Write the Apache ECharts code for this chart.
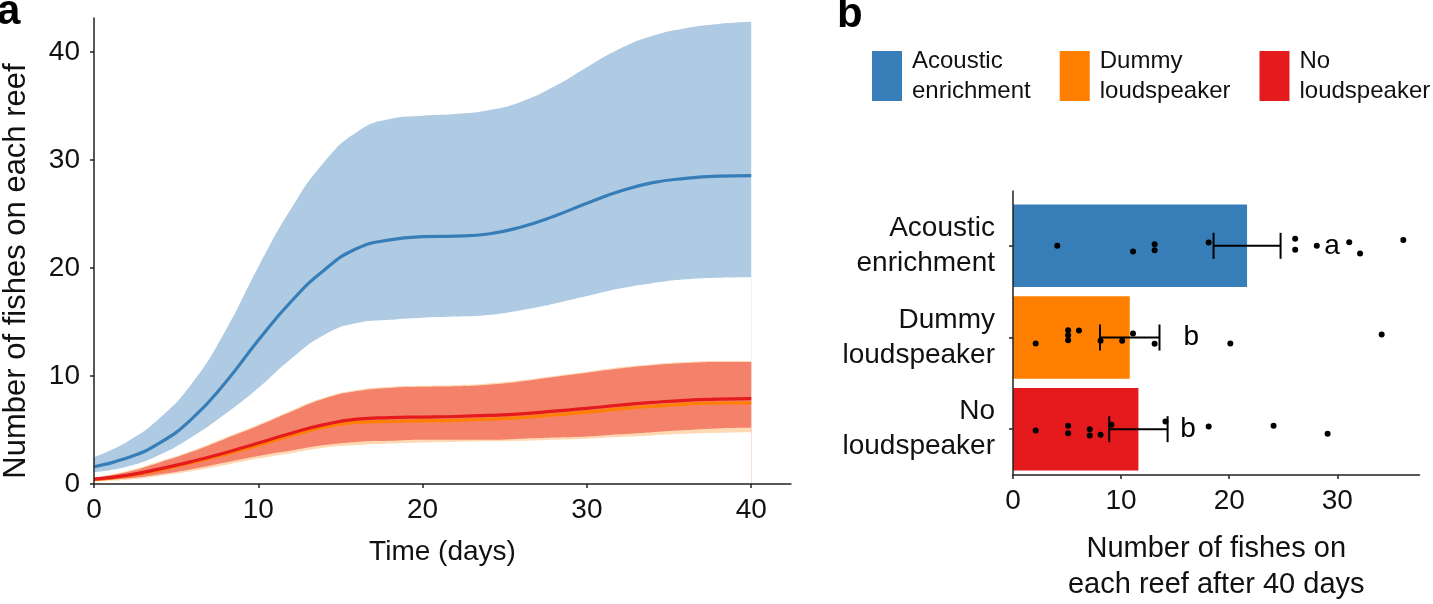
<!DOCTYPE html>
<html><head><meta charset="utf-8">
<script src="https://cdn.jsdelivr.net/npm/echarts@6/dist/echarts.min.js"></script>
<style>html,body{margin:0;padding:0;background:#fff}#c{width:1433px;height:604px}</style>
</head><body><div id="c"></div>
<script>
// ---------- Panel a: time series ----------
const days = [0,2,4,6,8,10,12,14,16,18,20,22,24,26,28,30,32,34,36,38,40];
const blueUpper = [2.5,3.9,6.1,9.4,14.2,20.1,25.5,29.8,32.6,33.8,34.1,34.25,34.6,35.4,36.8,38.6,40.3,41.5,42.2,42.6,42.8];
const blueMean  = [1.6,2.4,3.8,6.1,9.4,13.3,16.9,19.8,21.8,22.6,22.9,22.95,23.15,23.8,24.8,26.0,27.1,27.9,28.3,28.5,28.55];
const blueLower = [1.1,1.6,2.7,4.4,6.5,8.9,11.6,13.8,14.9,15.2,15.4,15.5,15.65,16.1,16.7,17.4,18.1,18.6,18.95,19.1,19.15];
const orangeUpper = [0.6,1.2,2.1,3.1,4.3,5.5,6.8,8.0,8.7,9.0,9.1,9.15,9.3,9.6,10.0,10.4,10.8,11.1,11.3,11.4,11.4];
const orangeMean  = [0.4,0.75,1.3,2.0,2.75,3.6,4.5,5.25,5.7,5.8,5.85,5.9,6.0,6.15,6.4,6.65,6.95,7.2,7.4,7.5,7.5];
const orangeLower = [0.25,0.4,0.75,1.2,1.75,2.35,2.85,3.35,3.6,3.75,3.85,3.9,3.95,4.0,4.1,4.2,4.35,4.5,4.65,4.75,4.8];
const redUpper = [0.55,1.1,2.0,3.0,4.2,5.4,6.7,7.9,8.6,8.9,9.0,9.05,9.2,9.5,9.9,10.3,10.7,11.0,11.2,11.3,11.3];
const redMean  = [0.45,0.8,1.4,2.1,2.9,3.8,4.7,5.5,6.0,6.15,6.2,6.25,6.35,6.5,6.75,7.0,7.3,7.55,7.75,7.85,7.9];
const redLower = [0.3,0.5,0.9,1.4,2.0,2.6,3.1,3.6,3.9,4.0,4.1,4.1,4.1,4.2,4.3,4.4,4.6,4.8,5.0,5.15,5.2];
const xTicksA = [0,10,20,30,40];
const yTicksA = [0,10,20,30,40];

// ---------- Panel b: bars after 40 days ----------
const groups = ['Acoustic enrichment','Dummy loudspeaker','No loudspeaker'];
const barMeans = [21.65, 10.8, 11.6];
const barSE = [3.1, 2.75, 2.7];
const letters = ['a','b','b'];
const letterX = [29.5, 16.5, 16.2];
const blueDots   = [4.1,11.1,13.1,13.1,18.1,26.1,26.1,28.1,31.1,32.1,36.1];
const blueJit    = [0,0.062,-0.018,0.047,-0.036,-0.076,0.044,0,-0.04,0.084,-0.065];
const orangeDots = [2.1,5.1,5.1,5.1,6.1,8.1,10.1,11.1,13.1,20.1,34.1];
const orangeJit  = [0.065,-0.08,-0.025,0.03,-0.076,0.036,0.036,-0.044,0.069,0.065,-0.033];
const redDots    = [2.1,5.1,5.1,7.1,7.1,8.1,9.1,14.1,18.1,24.1,29.1];
const redJit     = [0.015,-0.036,0.044,0,0.069,0.062,-0.047,-0.084,-0.029,-0.036,0.051];
const xTicksB = [0,10,20,30];

const C = {blue:'#377eb8', orange:'#ff7f00', red:'#e41a1c',
  blueBand:'#afcbe3', peach:'#ffd9b3', salmon:'#f4826b', white:'#ffffff', ink:'#111111'};
const FONT = 'Liberation Sans, Arial, Helvetica, sans-serif';

function pairs(v){ return days.map((d,i)=>[d, v[i]]); }
function area(v, color){
  return {type:'line', xAxisIndex:0, yAxisIndex:0, data:pairs(v), smooth:true, symbol:'none',
    lineStyle:{width:0, opacity:0}, areaStyle:{color:color, opacity:1}, silent:true, z:2};
}
function meanLine(name, v, color){
  return {name:name, type:'line', xAxisIndex:0, yAxisIndex:0, data:pairs(v), smooth:true, symbol:'none',
    color:color, lineStyle:{width:3.2, color:color}, silent:true, z:3};
}
const axisLineStyle = {color:'#222', width:1.5};

const chart = echarts.init(document.getElementById('c'), null, {renderer:'canvas'});
chart.setOption({
  animation:false,
  textStyle:{fontFamily:FONT},
  title:[
    {text:'a', left:-3, top:-9, padding:0, textStyle:{fontSize:42, fontWeight:'bold', color:'#000', fontFamily:FONT}},
    {text:'b', left:837, top:-6, padding:0, textStyle:{fontSize:42, fontWeight:'bold', color:'#000', fontFamily:FONT}}
  ],
  legend:{
    data:groups.map((g,i)=>({name:g, icon:'rect', itemStyle:{color:[C.blue,C.orange,C.red][i], borderWidth:0}})),
    left:872, top:46, width:561, padding:0, itemWidth:30, itemHeight:50, itemGap:29,
    symbolKeepAspect:false, selectedMode:false,
    formatter:n=>n.replace(' ','\n'),
    textStyle:{fontSize:24, lineHeight:30, color:C.ink, fontFamily:FONT, padding:[0,0,0,5]}
  },
  grid:[
    {left:94, top:18, width:697, height:466},
    {left:1013, top:200, width:406.5, height:275},
    {left:1013, top:191, width:406.5, height:293}
  ],
  xAxis:[
    {gridIndex:0, type:'value', min:0, max:42.42, z:10,
      axisLine:{show:true, lineStyle:axisLineStyle},
      axisTick:{show:true, length:4, customValues:xTicksA, lineStyle:axisLineStyle},
      axisLabel:{customValues:xTicksA, fontSize:28, margin:12, color:C.ink, fontFamily:FONT},
      splitLine:{show:false},
      name:'Time (days)', nameLocation:'middle', nameGap:54,
      nameTextStyle:{fontSize:28, color:C.ink, fontFamily:FONT}},
    {gridIndex:1, type:'value', min:0, max:37.6, show:false},
    {gridIndex:2, type:'value', min:0, max:37.6, z:10,
      axisLine:{show:true, lineStyle:axisLineStyle},
      axisTick:{show:true, length:4, customValues:xTicksB, lineStyle:axisLineStyle},
      axisLabel:{customValues:xTicksB, fontSize:28, margin:12, color:C.ink, fontFamily:FONT},
      splitLine:{show:false},
      name:'Number of fishes on\neach reef after 40 days', nameLocation:'middle', nameGap:56,
      nameTextStyle:{fontSize:29, lineHeight:36, color:C.ink, fontFamily:FONT}}
  ],
  yAxis:[
    {gridIndex:0, type:'value', min:0, max:43.15, z:10,
      axisLine:{show:true, lineStyle:axisLineStyle},
      axisTick:{show:true, length:4, customValues:yTicksA, lineStyle:axisLineStyle},
      axisLabel:{customValues:yTicksA, fontSize:28, margin:14, color:C.ink, fontFamily:FONT},
      splitLine:{show:false},
      name:'Number of fishes on each reef', nameLocation:'middle', nameGap:62,
      nameTextStyle:{fontSize:31, color:C.ink, fontFamily:FONT, padding:[0,40,0,0]}},
    {gridIndex:1, type:'category', inverse:true, data:groups.map(g=>g.replace(' ','\n')), z:10,
      axisLine:{show:false},
      axisTick:{show:true, alignWithLabel:true, length:4, lineStyle:axisLineStyle},
      axisLabel:{fontSize:28, lineHeight:35, margin:18, color:C.ink, align:'right', fontFamily:FONT},
      splitLine:{show:false}},
    {gridIndex:1, type:'value', min:-0.5, max:2.5, inverse:true, show:false, position:'left'},
    {gridIndex:2, type:'value', min:0, max:1, z:10,
      axisLine:{show:true, lineStyle:axisLineStyle},
      axisTick:{show:false}, axisLabel:{show:false}, splitLine:{show:false}}
  ],
  series:[
    area(blueUpper, C.blueBand),
    area(blueLower, C.white),
    meanLine(groups[0], blueMean, C.blue),
    area(orangeUpper, C.peach),
    area(redUpper, C.salmon),
    area(redLower, C.peach),
    area(orangeLower, C.white),
    meanLine(groups[1], orangeMean, C.orange),
    meanLine(groups[2], redMean, C.red),
    // panel b bars
    {type:'bar', xAxisIndex:1, yAxisIndex:1, barWidth:'90%', silent:true, z:2,
      data:barMeans.map((v,i)=>({value:v, itemStyle:{color:[C.blue,C.orange,C.red][i]}}))},
    // dots
    {type:'scatter', xAxisIndex:1, yAxisIndex:2, symbolSize:6, silent:true, z:4,
      itemStyle:{color:'#000', opacity:1},
      data:[].concat(
        blueDots.map((x,i)=>[x, 0+blueJit[i]]),
        orangeDots.map((x,i)=>[x, 1+orangeJit[i]]),
        redDots.map((x,i)=>[x, 2+redJit[i]]))},
    // error bars
    {type:'custom', xAxisIndex:1, yAxisIndex:1, silent:true, z:5,
      encode:{x:1, y:0},
      data:barMeans.map((m,i)=>[i, m, barSE[i]]),
      renderItem:function(params, api){
        const cat = api.value(0), m = api.value(1), s = api.value(2);
        const p1 = api.coord([m - s, cat]), p2 = api.coord([m + s, cat]);
        const h = 13, st = {stroke:'#000', lineWidth:2};
        return {type:'group', children:[
          {type:'line', shape:{x1:p1[0], y1:p1[1], x2:p2[0], y2:p2[1]}, style:st},
          {type:'line', shape:{x1:p1[0], y1:p1[1]-h, x2:p1[0], y2:p1[1]+h}, style:st},
          {type:'line', shape:{x1:p2[0], y1:p2[1]-h, x2:p2[0], y2:p2[1]+h}, style:st}
        ]};
      }},
    // significance letters
    {type:'scatter', xAxisIndex:1, yAxisIndex:1, symbolSize:1, silent:true, z:6,
      itemStyle:{color:'rgba(0,0,0,0)', opacity:1},
      data:letters.map((t,i)=>({value:[letterX[i], i], label:{formatter:t}})),
      label:{show:true, position:'inside', fontSize:28, color:'#000', opacity:1, fontFamily:FONT}}
  ]
});
</script>
</body></html>
